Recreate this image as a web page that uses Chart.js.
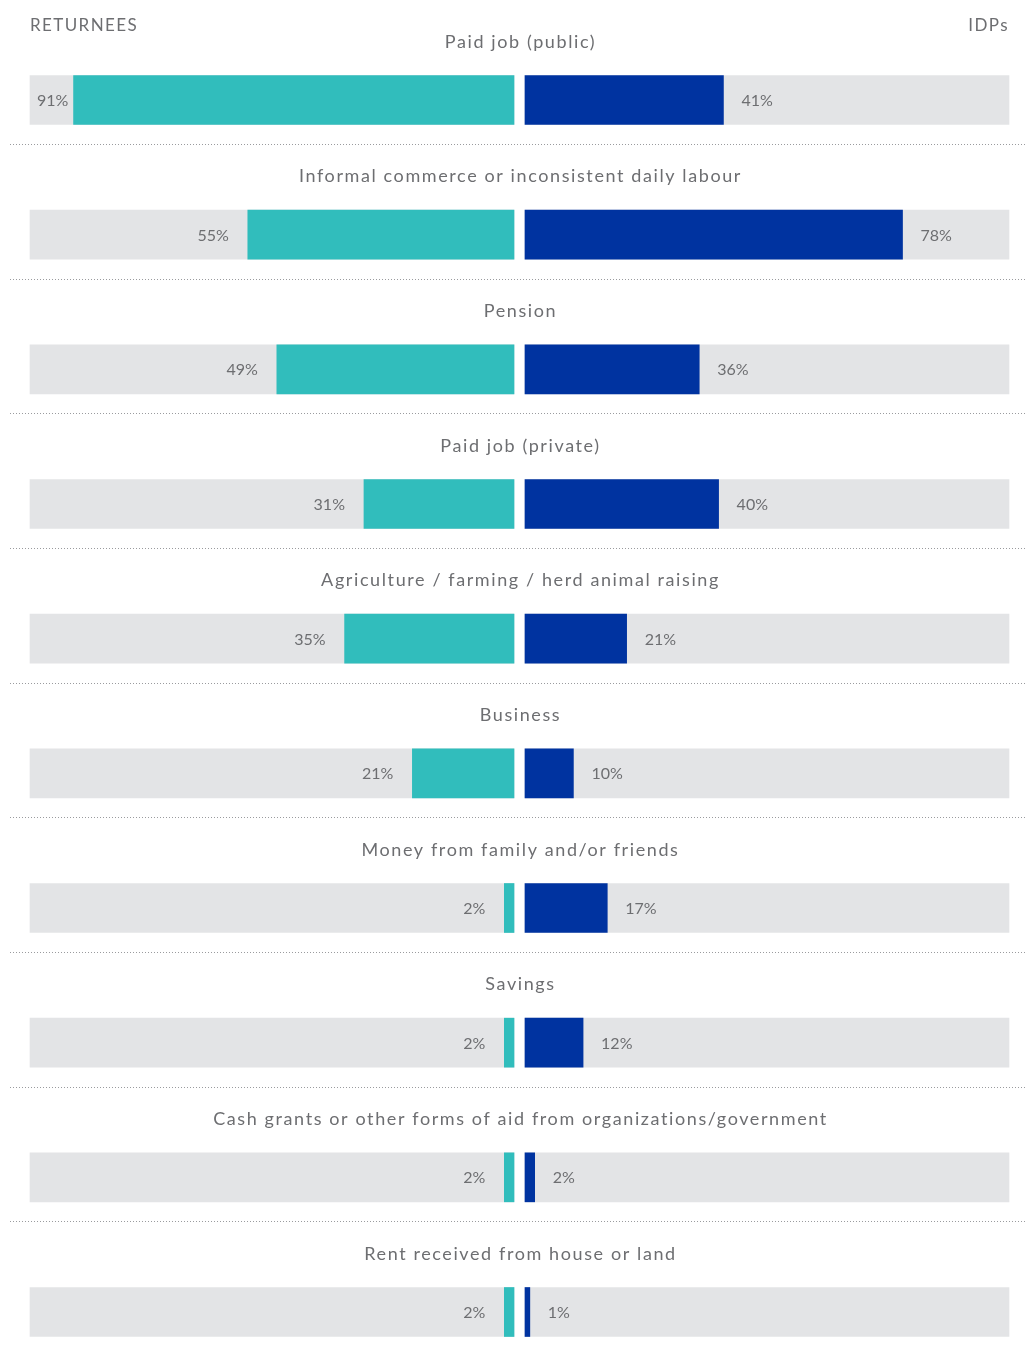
<!DOCTYPE html>
<html>
<head>
<meta charset="utf-8">
<script src="https://cdn.jsdelivr.net/npm/chart.js@4.4.1/dist/chart.umd.min.js"></script>
<style>
  html, body { margin: 0; padding: 0; background: #ffffff; }
  #wrap { width: 1027px; height: 1351px; position: relative; }
  canvas { display: block; }
</style>
</head>
<body>
<div id="wrap"><canvas id="chart" width="1027" height="1351"></canvas></div>
<script>
// Sources of income, returnees vs IDPs (% of households)
const categories = [
  'Paid job (public)',
  'Informal commerce or inconsistent daily labour',
  'Pension',
  'Paid job (private)',
  'Agriculture / farming / herd animal raising',
  'Business',
  'Money from family and/or friends',
  'Savings',
  'Cash grants or other forms of aid from organizations/government',
  'Rent received from house or land'
];
const returnees = [91, 55, 49, 31, 35, 21, 2, 2, 2, 2];
const idps      = [41, 78, 36, 40, 21, 10, 17, 12, 2, 1];
const leftHeader = 'RETURNEES';
const rightHeader = 'IDPs';

const TEAL = '#31bdbc';
const NAVY = '#0033a0';
const TRACK = '#e3e4e6';
const TEXT = '#6d6e71';
const FONT = 'Lato, "Open Sans", sans-serif';

// half-gap between the two panels, in value units
const G = 1.136;
const FULL = 100;

const leftBars  = returnees.map(v => [-G - v, -G]);
const rightBars = idps.map(v => [G, G + v]);
const leftTrack  = categories.map(() => [-G - FULL, -G]);
const rightTrack = categories.map(() => [G, G + FULL]);

const decorations = {
  id: 'decorations',
  afterDatasetsDraw(chart) {
    const { ctx, scales: { x, y } } = chart;
    ctx.save();
    ctx.textBaseline = 'middle';

    // panel headers
    ctx.font = '17px ' + FONT;
    ctx.fillStyle = TEXT;
    ctx.letterSpacing = '1.4px';
    ctx.textAlign = 'left';
    ctx.fillText(leftHeader, 30, 26);
    ctx.textAlign = 'right';
    ctx.fillText(rightHeader, 1009, 26);

    categories.forEach((name, i) => {
      const cy = y.getPixelForValue(i);

      // category title above each pair of bars
      ctx.font = '18px ' + FONT;
      ctx.letterSpacing = '1.6px';
      ctx.fillStyle = TEXT;
      ctx.textAlign = 'center';
      ctx.fillText(name, x.getPixelForValue(0) + 1, cy - 58);

      // value labels
      ctx.font = '16px ' + FONT;
      ctx.letterSpacing = '0px';
      const lt = returnees[i] + '%';
      const lw = ctx.measureText(lt).width;
      const lEdge = x.getPixelForValue(-G - returnees[i]);
      let lr = lEdge - 19;
      const minR = x.getPixelForValue(-G - FULL) + 7 + lw;
      if (lr < minR) lr = minR;
      ctx.textAlign = 'right';
      ctx.fillText(lt, lr, cy + 1);

      const rt = idps[i] + '%';
      const rEdge = x.getPixelForValue(G + idps[i]);
      ctx.textAlign = 'left';
      ctx.fillText(rt, rEdge + 18, cy + 1);

      // dotted separator below each row
      if (i < categories.length - 1) {
        ctx.beginPath();
        ctx.setLineDash([1, 2]);
        ctx.lineWidth = 1;
        ctx.strokeStyle = '#9a9b9e';
        const ly = Math.round(cy + 44) + 0.5;
        ctx.moveTo(10, ly);
        ctx.lineTo(1025, ly);
        ctx.stroke();
        ctx.setLineDash([]);
      }
    });
    ctx.restore();
  }
};

const barCommon = { barThickness: 49, grouped: false, clip: false, borderWidth: 0, borderSkipped: false };

new Chart(document.getElementById('chart'), {
  type: 'bar',
  data: {
    labels: categories,
    datasets: [
      Object.assign({ label: 'track-left', data: leftTrack, backgroundColor: TRACK, order: 2 }, barCommon),
      Object.assign({ label: 'track-right', data: rightTrack, backgroundColor: TRACK, order: 2 }, barCommon),
      Object.assign({ label: 'Returnees', data: leftBars, backgroundColor: TEAL, order: 1 }, barCommon),
      Object.assign({ label: 'IDPs', data: rightBars, backgroundColor: NAVY, order: 1 }, barCommon)
    ]
  },
  options: {
    indexAxis: 'y',
    responsive: false,
    animation: false,
    layout: { padding: { left: 30, right: 18, top: 100, bottom: 39 } },
    plugins: { legend: { display: false }, tooltip: { enabled: false } },
    scales: {
      x: { type: 'linear', min: -G - FULL, max: G + FULL, display: false },
      y: { type: 'category', offset: false, display: false, grid: { display: false } }
    }
  },
  plugins: [decorations]
});
</script>
</body>
</html>
